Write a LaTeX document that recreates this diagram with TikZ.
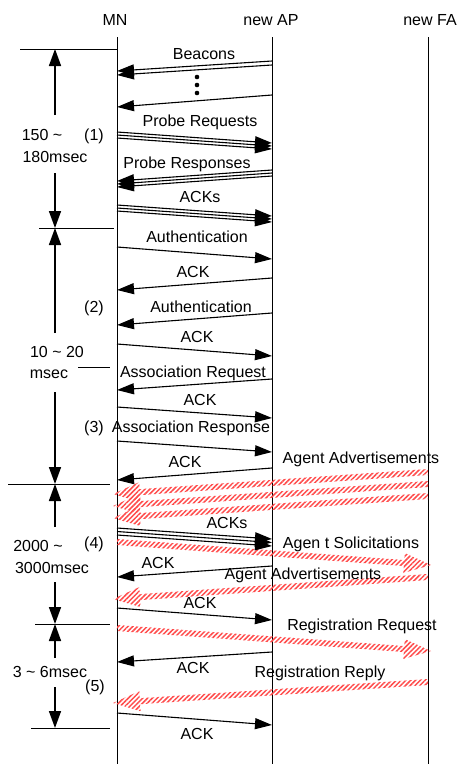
\documentclass[tikz,border=0pt]{standalone}
\usepackage{fontspec}
\setmainfont{Liberation Sans}
\usetikzlibrary{arrows.meta,calc,patterns.meta}
\tikzset{
  lbl/.style={font=\fontsize{16}{18}\selectfont, inner sep=0pt, text height=11.5pt, text depth=0pt, anchor=center},
  msg/.style={line width=1.1pt, -{Triangle[length=17pt,width=11pt]}},
  life/.style={line width=1pt},
  spanarrow/.style={line width=1.6pt, -{Triangle[length=17pt,width=12pt]}},
  tickline/.style={line width=1pt},
  hatch/.style={pattern={Lines[angle=45,distance=3.4pt,line width=1.5pt]}, pattern color=red!70},
}
\newcommand\Msg[3]{\coordinate (#1-s) at (#2); \coordinate (#1-e) at (#3); \draw[msg] (#1-s) -- (#1-e);}
\newcommand\Hatch[3]{\coordinate (#1-s) at (#2); \coordinate (#1-e) at (#3);
  \coordinate (#1-hb) at ($(#1-e)!27pt!(#1-s)$);
  \path[hatch] ($(#1-s)!3pt!90:(#1-e)$) -- ($(#1-hb)!3pt!90:(#1-e)$) -- ($(#1-hb)!10pt!90:(#1-e)$) -- (#1-e)
     -- ($(#1-hb)!10pt!-90:(#1-e)$) -- ($(#1-hb)!3pt!-90:(#1-e)$) -- ($(#1-s)!3pt!-90:(#1-e)$) -- cycle;}
\newcommand\Span[3]{\coordinate (#1-s) at (#2); \coordinate (#1-e) at (#3); \draw[spanarrow] (#1-s) -- (#1-e);}
\newcommand\Tick[3]{\coordinate (#1-s) at (#2); \coordinate (#1-e) at (#3); \draw[tickline] (#1-s) -- (#1-e);}
\begin{document}
\begin{tikzpicture}[x=1pt,y=-1pt]
\useasboundingbox (0,0) rectangle (461,764);
% lifeline heads
\node[lbl] (MN) at (115,20) {MN};
\node[lbl] (AP) at (271,20) {new AP};
\node[lbl] (FA) at (430,20) {new FA};
\coordinate (MNt) at (117,37); \coordinate (MNb) at (117,764);
\coordinate (APt) at (272,37); \coordinate (APb) at (272,764);
\coordinate (FAt) at (428,37); \coordinate (FAb) at (428,764);
\draw[life] (MNt) -- (MNb);
\draw[life] (APt) -- (APb);
\draw[life] (FAt) -- (FAb);
% hatched messages (drawn first)
\Hatch{adv1}{428,472}{113,494}
\Hatch{adv2}{428,484}{113,506}
\Hatch{adv3}{428,496}{113,518}
\Hatch{sol}{117,542}{431,565}
\Hatch{adv4}{428,577}{113,599}
\Hatch{rreq}{117,628}{431,651}
\Hatch{rrep}{428,682}{113,703}
% beacons
\Msg{b1}{272,61}{117,71}
\Msg{b2}{272,65}{117,75}
\node[circle,fill,inner sep=0pt,minimum size=4.6pt] (d1) at (197,77) {};
\node[circle,fill,inner sep=0pt,minimum size=4.6pt] (d2) at (197,85) {};
\node[circle,fill,inner sep=0pt,minimum size=4.6pt] (d3) at (197,93) {};
\Msg{b3}{272,95}{117,107}
% probe requests
\Msg{pr1}{117,132}{272,143}
\Msg{pr2}{117,135}{272,146}
\Msg{pr3}{117,138}{272,149}
% probe responses
\Msg{ps1}{272,170}{117,181}
\Msg{ps2}{272,173}{117,184}
\Msg{ps3}{272,176}{117,187}
% ACKs
\Msg{ak1}{117,205}{272,216}
\Msg{ak2}{117,208}{272,219}
\Msg{ak3}{117,211}{272,222}
% authentication etc.
\Msg{au1}{117,247}{272,259}
\Msg{ac1}{272,278}{117,290}
\Msg{au2}{272,313}{117,325}
\Msg{ac2}{117,344}{272,356}
\Msg{asr}{272,379}{117,390}
\Msg{ac3}{117,407}{272,418}
\Msg{ass}{117,441}{272,452}
\Msg{ac4}{272,468}{117,480}
\Msg{akb1}{117,528}{272,539}
\Msg{akb2}{117,531.5}{272,542.5}
\Msg{akb3}{117,535}{272,546}
\Msg{ac5}{272,566}{117,577}
\Msg{ac6}{117,608}{272,620}
\Msg{ac7}{272,652}{117,662}
\Msg{ac8}{117,713}{272,725}
% left time spans
\Tick{t1}{20,49}{117,49}
\Tick{t2}{39,228}{114,228}
\Tick{t3}{78,367}{110,367}
\Tick{t4}{8,484}{110,484}
\Tick{t5}{35,624}{110,624}
\Tick{t6}{31,728}{110,728}
\Span{s1}{55,115}{55,49}
\Span{s2}{55,173}{55,228}
\Span{s3}{55,333}{55,228}
\Span{s4}{55,392}{55,484}
\Span{s5}{55,527}{55,484}
\Span{s6}{55,582}{55,624}
\Span{s7}{55,658}{55,624}
\Span{s8}{55,687}{55,728}
% labels
\node[lbl] (lbeac) at (204,54) {Beacons};
\node[lbl] (lpreq) at (200,121) {Probe Requests};
\node[lbl] (lp1a) at (42,135) {150 \textasciitilde};
\node[lbl] (lp1n) at (94,135) {(1)};
\node[lbl] (lp1b) at (55,157) {180msec};
\node[lbl] (lpres) at (187,163) {Probe Responses};
\node[lbl] (lacks) at (200,197) {ACKs};
\node[lbl] (lau1) at (197,237) {Authentication};
\node[lbl] (lac1) at (193,272) {ACK};
\node[lbl] (lp2n) at (94,307) {(2)};
\node[lbl] (lau2) at (201,307) {Authentication};
\node[lbl] (lac2) at (197,337) {ACK};
\node[lbl] (lp2a) at (57,352) {10 \textasciitilde{} 20};
\node[lbl] (lp2b) at (49,373) {msec};
\node[lbl] (lasr) at (193,372) {Association Request};
\node[lbl] (lac3) at (200,400) {ACK};
\node[lbl] (lp3n) at (94,427) {(3)};
\node[lbl] (lass) at (191,427) {Association Response};
\node[lbl] (lac4) at (185,462) {ACK};
\node[lbl] (ladv1) at (361,458) {Agent Advertisements};
\node[lbl] (lacks2) at (227,523) {ACKs};
\node[lbl] (lp4a) at (38,546) {2000 \textasciitilde};
\node[lbl] (lp4n) at (94,543) {(4)};
\node[lbl] (lp4b) at (52,568) {3000msec};
\node[lbl] (lsol) at (351,543) {Agen t Solicitations};
\node[lbl] (lac5) at (158,563) {ACK};
\node[lbl] (ladv2) at (303,574) {Agent Advertisements};
\node[lbl] (lac6) at (200,603) {ACK};
\node[lbl] (lrreq) at (362,625) {Registration Request};
\node[lbl] (lac7) at (193,668) {ACK};
\node[lbl] (lrrep) at (320,672) {Registration Reply};
\node[lbl] (lp5a) at (50,672) {3 \textasciitilde{} 6msec};
\node[lbl] (lp5n) at (95,686) {(5)};
\node[lbl] (lac8) at (197,734) {ACK};
\end{tikzpicture}
\end{document}
